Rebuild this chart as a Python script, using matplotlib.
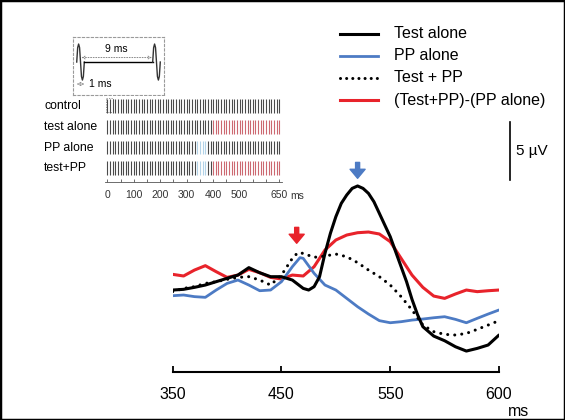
import matplotlib

matplotlib.use("Agg")
import matplotlib.pyplot as plt  # noqa: E402
import numpy as np  # noqa: E402
from matplotlib.lines import Line2D  # noqa: E402
from matplotlib.patches import Rectangle  # noqa: E402

plt.rcParams["font.family"] = ["Liberation Sans", "DejaVu Sans"]

W, H = 565, 420

# evoked responses (uV)
t_black = [350, 360, 370, 380, 390, 400, 410, 420, 430, 440, 450, 460, 470, 475, 480,
           485, 490, 495, 500, 505, 510, 515, 520, 525, 530, 535, 540, 545, 550, 555,
           560, 565, 570, 575, 580, 590, 600, 610, 620, 630, 640, 650]
v_black = [0.0, 0.06, 0.23, 0.43, 0.72, 1.01, 1.29, 1.93, 1.49, 1.15, 1.15, 0.86, 0.14,
           0.0, 0.29, 1.15, 3.16, 4.89, 6.32, 7.47, 8.19, 8.76, 8.97, 8.76, 8.33, 7.61,
           6.61, 5.6, 4.6, 3.3, 2.01, 0.72, -0.8, -2.1, -3.16, -3.97, -4.37, -4.89,
           -5.26, -5.03, -4.74, -3.88]

t_red = [350, 360, 370, 380, 390, 400, 410, 420, 430, 440, 450, 460, 470, 480, 490, 500,
         510, 520, 530, 540, 550, 560, 570, 580, 590, 600, 610, 620, 630, 640, 650]
v_red = [1.35, 1.21, 1.72, 2.1, 1.58, 1.09, 1.29, 1.78, 1.49, 1.09, 0.95, 1.29, 1.21,
         2.01, 3.45, 4.31, 4.74, 4.94, 5.0, 4.83, 4.17, 2.73, 1.29, 0.23, -0.52, -0.72,
         -0.34, 0.0, -0.14, -0.06, 0.0]

t_blue = [350, 360, 370, 380, 390, 400, 410, 420, 430, 440, 450, 460, 467, 470, 480, 490,
          500, 510, 520, 530, 540, 550, 560, 570, 580, 590, 600, 610, 620, 630, 640, 650]
v_blue = [-0.49, -0.43, -0.57, -0.63, 0.0, 0.57, 0.86, 0.43, -0.06, 0.0, 0.72, 2.01,
          2.79, 2.73, 1.44, 0.43, 0.0, -0.72, -1.44, -2.07, -2.64, -2.82, -2.73, -2.59,
          -2.5, -2.39, -2.3, -2.53, -2.82, -2.44, -2.07, -1.72]

t_dot = [350, 360, 370, 380, 390, 400, 410, 420, 430, 440, 450, 460, 465, 470, 480, 490,
         500, 510, 520, 530, 540, 550, 560, 570, 580, 590, 600, 610, 620, 630, 640, 650]
v_dot = [-0.14, 0.14, 0.29, 0.57, 0.72, 0.92, 1.09, 1.15, 0.86, 0.43, 1.29, 2.73, 3.22,
         3.16, 2.82, 2.93, 3.1, 2.87, 2.36, 1.72, 1.15, 0.43, -0.57, -1.72, -3.02, -3.59,
         -3.82, -3.88, -3.74, -3.39, -3.02, -2.64]

series_labels = ["Test alone", "PP alone", "Test + PP", "(Test+PP)-(PP alone)"]
xtick_pos = [350, 450, 550, 650]
xtick_text = ["350", "450", "550", "600"]

# stimulation protocol
row_labels = ["control", "test alone", "PP alone", "test+PP"]
row_has_test = [False, True, False, True]
row_has_pp = [False, False, True, True]
train_start, train_end, train_period = 0, 650, 10
test_window = (400, 650)
pp_window = (340, 370)
train_ticks = [0, 100, 200, 300, 400, 500, 650]
pulse_shape = [0, 0.8, 1.0, 0.8, 0, -0.8, -1.0, -0.8, 0]  # one 1 ms biphasic pulse

RED = "#e8232b"
BLUE = "#4d7bc4"


def fx(px):
    return px / W


def fy(py):
    return 1 - py / H


fig = plt.figure(figsize=(W / 100, H / 100), dpi=100)

# ---- main traces
ax = fig.add_axes([fx(172.7), fy(371.7), (499 - 172.7) / W, (371.7 - 150) / H])
ax.set_xlim(350, 650)
ax.set_ylim(-7.04, 12.07)
ax.plot(t_red, v_red, color=RED, lw=2.2, solid_capstyle="round")
ax.plot(t_blue, v_blue, color=BLUE, lw=2.0, solid_capstyle="round")
ax.plot(t_dot, v_dot, color="black", lw=2.2, linestyle=(0, (0.01, 2.3)),
        dash_capstyle="round")
ax.plot(t_black, v_black, color="black", lw=2.2, solid_capstyle="round")

for s in ["left", "right", "top"]:
    ax.spines[s].set_visible(False)
ax.spines["bottom"].set_linewidth(1.5)
ax.set_yticks([])
ax.set_xticks(xtick_pos)
ax.set_xticklabels(xtick_text)
ax.tick_params(axis="x", direction="in", length=4, width=1.3, labelsize=11.5, pad=11)

arrow = "simple,head_length=0.65,head_width=1.08,tail_width=0.29"
ax.annotate("", xy=(464, 4.03), xytext=(464, 5.4), annotation_clip=False,
            arrowprops=dict(arrowstyle=arrow, color=RED, shrinkA=0, shrinkB=0,
                            mutation_scale=10))
ax.annotate("", xy=(520, 9.63), xytext=(520, 11.0), annotation_clip=False,
            arrowprops=dict(arrowstyle=arrow, color=BLUE, shrinkA=0, shrinkB=0,
                            mutation_scale=10))

# scale bar
ax.plot([660, 660], [9.5, 14.5], color="black", lw=1.2, clip_on=False)
ax.text(666, 12.0, "5 µV", ha="left", va="center", fontsize=11)
fig.text(fx(519), fy(411), "ms", ha="center", va="center", fontsize=11.5)

# ---- legend
legend_styles = [dict(color="black", lw=2.2),
                 dict(color=BLUE, lw=2.0),
                 dict(color="black", lw=2.2, linestyle=(0, (0.01, 2.0)),
                      dash_capstyle="round"),
                 dict(color=RED, lw=2.2)]
for i, (lab, st) in enumerate(zip(series_labels, legend_styles)):
    y = fy(34 + 22 * i)
    fig.add_artist(Line2D([fx(340), fx(378)], [y, y], **st))
    fig.text(fx(394), y, lab, ha="left", va="center", fontsize=11.5)

# ---- pulse schematic
axp = fig.add_axes([fx(73), fy(95), 91 / W, 58 / H])
axp.set_xlim(-0.49, 11.49)
axp.set_ylim(-1.83, 1.39)
axp.set_xticks([])
axp.set_yticks([])
for s in axp.spines.values():
    s.set_linestyle((0, (2, 2)))
    s.set_color("#9a9a9a")
    s.set_linewidth(0.8)
px_ = np.linspace(0, 1, len(pulse_shape))
axp.plot(px_, pulse_shape, color="#333333", lw=1.0)
axp.plot([1, 10], [0, 0], color="black", lw=1.0)
axp.plot(px_ + 10, pulse_shape, color="#333333", lw=1.0)
dim = dict(arrowstyle="<->", color="#888888", lw=0.7, linestyle=":",
           shrinkA=0, shrinkB=0, mutation_scale=5)
axp.annotate("", xy=(0.6, 0.25), xytext=(9.9, 0.25), arrowprops=dim)
axp.text(5.2, 0.75, "9 ms", ha="center", va="center", fontsize=7.5)
axp.annotate("", xy=(0.0, -1.22), xytext=(1.0, -1.22), arrowprops=dim)
axp.text(1.6, -1.22, "1 ms", ha="left", va="center", fontsize=7.5)

# ---- pulse trains
axt = fig.add_axes([fx(104.65), fy(182), (281.95 - 104.65) / W, (182 - 96) / H])
axt.set_xlim(-10, 660)
axt.set_ylim(3.68, -0.51)
pulses = np.arange(train_start, train_end + 1, train_period)
for i, lab in enumerate(row_labels):
    cols = []
    for p in pulses:
        if row_has_test[i] and test_window[0] <= p <= test_window[1]:
            cols.append("#cc6870")
        elif row_has_pp[i] and pp_window[0] <= p <= pp_window[1]:
            cols.append("#b3d3e8")
        else:
            cols.append("#4a4a4a")
    axt.vlines(pulses, i - 0.34, i + 0.34, colors=cols, lw=0.8)
    axt.text(-239, i, lab, ha="left", va="center", fontsize=8.8, clip_on=False)
axt.add_patch(Rectangle((-6, -0.41), 26, 0.7, fill=False, edgecolor="#888888",
                        lw=0.6, linestyle=(0, (1.5, 1.5)), clip_on=False))
for s in ["left", "right", "top"]:
    axt.spines[s].set_visible(False)
axt.spines["bottom"].set_color("#555555")
axt.spines["bottom"].set_linewidth(0.6)
axt.set_yticks([])
axt.set_xticks(train_ticks)
axt.set_xticklabels([str(v) for v in train_ticks])
axt.set_xticks(np.arange(0, 651, 50), minor=True)
axt.tick_params(axis="x", which="both", direction="in", length=2, width=0.6,
                colors="#555555", labelcolor="#333333", labelsize=7.5, pad=6)
axt.text(691, 4.37, "ms", ha="left", va="center", fontsize=7.5, color="#333333",
         clip_on=False)

fig.add_artist(Rectangle((0, 0), 1, 1, transform=fig.transFigure, fill=False,
                         edgecolor="black", lw=2.5))

fig.savefig("out.png", dpi=100)
